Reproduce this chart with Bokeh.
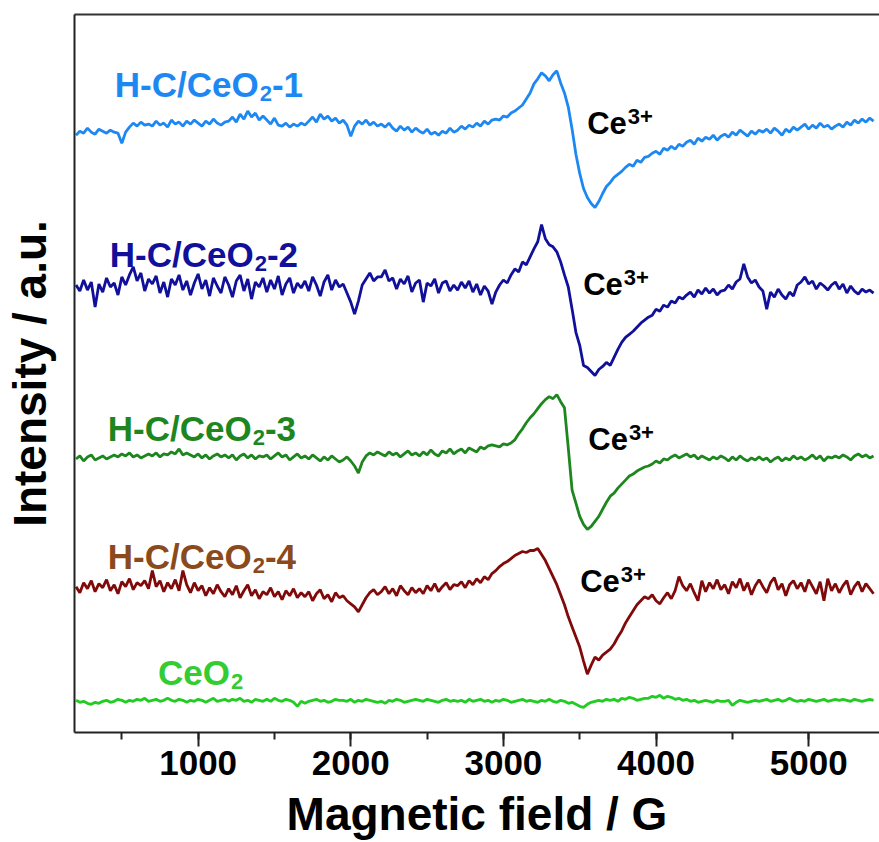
import numpy as np
from bokeh.plotting import figure
from bokeh.models import (LinearAxis, FixedTicker, SingleIntervalTicker, Range1d,
                          ColumnDataSource)
from bokeh.core.properties import value
from bokeh.embed import file_html
from bokeh.resources import INLINE

# ---------------- data ----------------
# field sampled every 25 G starting at 200 G; intensities in a.u. relative to each baseline
field_start = 200
field_step = 25

s1 = [  # H-C/CeO2-1
    -6, -2, -4, 1, -3, -5, 0, -2, -4, -1,
    -3, -4, -14, -3, 2, 6, 3, 7, 4, 5,
    3, 8, 4, 6, 2, 9, 5, 7, 3, 8,
    5, 9, 6, 3, 8, 5, 10, 6, 4, 7,
    8, 12, 7, 15, 10, 18, 12, 16, 9, 13,
    9, 5, 11, 4, 3, 6, 2, 5, 3, 6,
    4, 8, 12, 7, 15, 10, 13, 8, 11, 6,
    9, 4, -7, 3, 8, 5, 9, 4, 7, 3,
    5, 2, 6, 1, -2, 3, -1, 2, -3, 1,
    -2, -4, 0, -5, -3, -6, -2, -4, 1, -3,
    -1, 3, 0, 4, 2, 6, 3, 8, 5, 9,
    10, 9, 13, 12, 16, 18, 21, 24, 30, 36,
    45, 50, 56, 53, 48, 54, 58, 46, 36, 22,
    0, -25, -44, -59, -68, -74, -78, -72, -64, -57,
    -53, -48, -45, -42, -38, -35, -37, -31, -33, -28,
    -27, -24, -22, -25, -19, -21, -17, -20, -15, -17,
    -13, -11, -15, -9, -12, -8, -10, -6, -11, -7,
    -5, -8, -3, -6, -1, -4, -7, -2, -5, -1,
    -3, 0, -4, 1, -2, -6, 0, -3, 2, -1,
    2, 5, 0, 4, 1, 6, 2, 4, 0, 3,
    5, 2, 7, 4, 9, 6, 10, 7, 11, 8,
]
s2 = [  # H-C/CeO2-2
    2, -4, 7, -3, 5, -20, 3, -5, 9, 0,
    4, -8, 10, 2, 12, 20, 6, 14, -4, 8,
    3, 11, -6, 5, -10, 8, 2, 12, -3, 6,
    -8, 4, 13, -2, 7, -9, 9, 1, -6, 10,
    2, -10, 6, 12, -4, 8, -12, 5, 0, 9,
    -5, 7, -2, 11, -8, 3, 9, -6, 4, -1,
    6, -4, 10, 2, -9, 5, 12, -3, 7, 0,
    3, -6, -15, -27, -14, 2, 8, 14, 6, 10,
    10, 17, 6, 9, -2, 8, 3, 11, -5, 4,
    7, -15, 4, 1, 8, -6, 4, 6, -4, 2,
    -3, 5, -1, 6, -5, 3, -8, 1, -4, -17,
    -5, 2, 7, 4, 12, 18, 15, 25, 22, 30,
    38, 45, 62, 48, 42, 40, 35, 25, 12, 0,
    -22, -45, -58, -78, -80, -84, -88, -82, -79, -75,
    -78, -70, -62, -55, -50, -47, -44, -40, -36, -33,
    -30, -28, -22, -24, -18, -20, -14, -16, -10, -12,
    -8, -5, -10, -3, -7, -1, -6, -2, -8, -4,
    -3, 2, -2, 5, 8, 23, 10, 4, 7, 0,
    -4, -22, -5, -10, -2, -8, -12, -5, -9, 2,
    5, 10, 3, 6, -2, 4, 1, -3, 2, 5,
    -2, 3, -6, 1, -4, -7, -2, -5, -3, -6,
]
s3 = [  # H-C/CeO2-3
    -1, 2, -3, 1, 3, -2, 0, 2, -1, 1,
    3, 1, 4, 2, 5, 1, 3, 0, 2, 4,
    2, 5, 1, 4, 3, 6, 4, 9, 3, 5,
    3, 1, 4, 0, 3, -1, 2, 4, 1, 3,
    0, 3, -2, 2, 4, 0, 3, -1, 2, 1,
    3, -1, 2, 5, 1, 3, -2, 1, 4, 0,
    2, -1, 3, 0, -3, 1, -2, 2, -1, -4,
    -2, 1, -3, -8, -15, -4, 2, 5, 3, 6,
    4, 2, 6, 3, 5, 1, 4, 7, 3, 5,
    2, 6, 3, 8, 4, 2, 7, 5, 9, 4,
    7, 9, 5, 10, 8, 6, 11, 9, 12, 13,
    12, 11, 14, 13, 15, 18, 24, 29, 35, 40,
    44, 49, 54, 58, 61, 59, 63, 56, 50, 10,
    -32, -45, -58, -66, -71, -68, -63, -58, -51, -44,
    -38, -35, -30, -26, -22, -18, -16, -13, -11, -9,
    -8, -6, -3, -5, -1, -2, 1, 3, 0, 2,
    4, 1, 3, -1, 2, 0, -2, 1, -1, 2,
    0, -3, 1, -2, 2, -1, -3, 0, -2, 1,
    -2, 0, -4, -1, 1, -3, 0, -2, 2, -1,
    1, -2, 0, 3, -1, 2, -3, 1, 0, 2,
    0, 3, 1, -2, 2, 4, 1, 3, 0, 2,
]
s4 = [  # H-C/CeO2-4
    2, -4, 6, 0, 8, -3, 5, 1, 9, -2,
    4, -5, 7, 2, 10, -1, 6, 3, 8, 0,
    18, 2, 8, -3, 6, 0, 9, -2, 18, 4,
    -4, 6, -2, 3, -7, 1, -5, 4, -3, -8,
    0, -6, 3, -9, -2, 4, -7, -1, -10, -3,
    -6, 1, -8, -3, -11, -2, -7, 0, -9, -4,
    -8, -3, -12, -5, -1, -10, -6, -13, -4, -9,
    -7, -12, -15, -18, -23, -16, -9, -4, -1, -6,
    -3, 2, -5, 0, -7, 3, -2, -6, 1, -4,
    0, -5, 3, -2, 5, -3, 2, 6, -1, 4,
    3, 7, 1, 8, 4, 10, 6, 12, 9, 15,
    18, 22, 25, 27, 30, 33, 35, 37, 36, 38,
    38, 40, 34, 28, 20, 12, 4, -6, -16, -28,
    -38, -48, -58, -72, -85, -76, -68, -71, -66, -63,
    -60, -55, -48, -42, -34, -28, -22, -16, -12, -8,
    -10, -6, -12, -15, -9, -4, -10, -2, 12, 3,
    -2, 5, -4, -12, 8, -3, 6, 0, 9, -1,
    4, -5, 7, 1, 10, -2, 6, -6, 3, 9,
    2, -4, 6, 11, -1, 5, -7, 4, 8, 0,
    6, -3, 9, 2, -5, 7, -12, 10, -2, 5,
    -4, 3, 8, -6, 2, 7, -3, 5, 0, -5,
]
s5 = [  # CeO2
    1, -1, 0, -2, -3, -1, -2, 0, 1, -1,
    0, 2, 1, -1, 1, 0, 2, 1, 3, 0,
    1, 2, 0, 1, 3, 1, 0, 2, 1, -1,
    1, 0, 2, 1, -1, 1, 3, 0, 1, 2,
    0, 2, 1, 3, 0, 1, -1, 2, 1, 0,
    2, 0, 3, 1, 0, 2, 1, -1, -5, 0,
    -2, 0, 1, 2, 0, 1, -1, 0, 2, 1,
    1, 0, 2, -1, 1, 0, 2, 1, 0, -1,
    0, -2, 1, 0, 2, 1, -1, 0, 1, 2,
    1, 0, 2, 1, 0, -1, 1, 2, 0, 1,
    0, 1, -1, 2, 0, 1, 2, 0, 1, -1,
    1, 0, 2, 1, -1, 0, 1, 2, 0, 1,
    0, -1, 1, 0, 2, 0, -1, 1, 0, -2,
    -1, -3, -5, -6, -3, -1, 0, 1, 0, 2,
    1, 2, 0, 3, 2, 4, 3, 1, 2, 3,
    3, 5, 4, 6, 3, 5, 4, 2, 3, 1,
    2, 0, 1, -1, 0, 1, 0, -1, 1, 0,
    0, 1, -4, -1, 1, 0, -1, 0, 1, 0,
    1, 2, 0, 1, 2, 0, 1, 3, 1, 0,
    1, 0, 2, 1, 0, 1, 2, 0, 1, 2,
    1, 2, 1, 0, 2, 1, 0, 1, 2, 1,
]

series = [s1, s2, s3, s4, s5]
# sample names split as (text before subscript, subscript, text after subscript)
name_parts = [("H-C/CeO", "2", "-1"), ("H-C/CeO", "2", "-2"), ("H-C/CeO", "2", "-3"),
              ("H-C/CeO", "2", "-4"), ("CeO", "2", "")]
offsets = [600, 443, 273, 143, 31]          # vertical stacking offsets (a.u.)
line_colors = ["#1E88F2", "#10109A", "#1E861E", "#800A0A", "#22CC22"]
label_colors = ["#1E88F2", "#10109A", "#1E861E", "#8A4A1C", "#33CC33"]
label_x = [454, 421, 408, 408, 737]
label_y = [644, 475, 302, 175, 60]

ce_base, ce_sup = "Ce", "3+"
ce_x = [3549, 3523, 3556, 3503]
ce_y = [606, 446, 291, 150]

x_ticks_interval = 1000

# ---------------- helpers ----------------
FONT = "Liberation Sans"
# Arial/Liberation Sans Bold advance widths (em)
_W = {"H": .722, "-": .333, "C": .722, "/": .278, "e": .556, "O": .778,
      "0": .556, "1": .556, "2": .556, "3": .556, "4": .556, "+": .584}


def text_width(s, size):
    return sum(_W.get(ch, .556) for ch in s) * size


MAIN_PX, SUB_PX = 35, 22
CE_PX, SUP_PX = 31, 22

# ---------------- figure ----------------
p = figure(width=879, height=842, output_backend="svg", toolbar_location=None,
           x_range=Range1d(190, 5464), y_range=Range1d(0, 714),
           min_border_left=0, min_border_right=0, min_border_top=14,
           min_border_bottom=0, y_axis_location=None)
p.outline_line_color = None
p.grid.visible = False
p.background_fill_color = "white"
p.border_fill_color = "white"

for s, off, col in zip(series, offsets, line_colors):
    arr = np.asarray(s, dtype=float)
    fld = field_start + field_step * np.arange(len(arr))
    src = ColumnDataSource(dict(x=fld, y=arr + off))
    p.line("x", "y", source=src, line_color=col, line_width=2.8)

common = dict(text_font=value(FONT), text_font_style="bold",
              text_baseline="alphabetic", text_align="left")

for (a, sub, b), lx, ly, lc in zip(name_parts, label_x, label_y, label_colors):
    wa = text_width(a, MAIN_PX)
    ws = text_width(sub, SUB_PX)
    p.text(x=[lx], y=[ly], text=[a], text_color=lc, text_font_size=f"{MAIN_PX}px", **common)
    p.text(x=[lx], y=[ly], text=[sub], text_color=lc, text_font_size=f"{SUB_PX}px",
           x_offset=wa + 1, y_offset=9, **common)
    if b:
        p.text(x=[lx], y=[ly], text=[b], text_color=lc, text_font_size=f"{MAIN_PX}px",
               x_offset=wa + ws + 1, **common)

wce = text_width(ce_base, CE_PX)
p.text(x=ce_x, y=ce_y, text=[ce_base] * len(ce_x), text_color="black",
       text_font_size=f"{CE_PX}px", **common)
p.text(x=ce_x, y=ce_y, text=[ce_sup] * len(ce_x), text_color="black",
       text_font_size=f"{SUP_PX}px", x_offset=wce + 1, y_offset=-7, **common)

# x axis
xa = p.xaxis[0]
xa.ticker = SingleIntervalTicker(interval=x_ticks_interval, num_minor_ticks=2)
xa.axis_label = "Magnetic field / G"
xa.axis_label_text_font = FONT
xa.axis_label_text_font_style = "bold"
xa.axis_label_text_font_size = "46px"
xa.axis_label_text_color = "black"
xa.axis_label_standoff = 10
xa.major_label_text_font = FONT
xa.major_label_text_font_style = "bold"
xa.major_label_text_font_size = "35px"
xa.major_label_text_color = "black"
xa.major_label_standoff = 4
xa.axis_line_width = 2
xa.axis_line_color = "#222222"
xa.major_tick_line_width = 2
xa.minor_tick_line_width = 2
xa.major_tick_line_color = "#222222"
xa.minor_tick_line_color = "#222222"
xa.major_tick_in = 0
xa.major_tick_out = 14
xa.minor_tick_in = 0
xa.minor_tick_out = 7

# left axis: line and title only
ya = LinearAxis(ticker=FixedTicker(ticks=[]), axis_label="Intensity / a.u.")
ya.major_label_text_font_size = "0px"
ya.major_tick_out = 0
ya.minor_tick_out = 0
ya.major_label_standoff = 0
ya.axis_label_standoff = 19
ya.axis_label_text_font = FONT
ya.axis_label_text_font_style = "bold"
ya.axis_label_text_font_size = "46px"
ya.axis_label_text_color = "black"
ya.axis_line_width = 2
ya.axis_line_color = "#222222"
p.add_layout(ya, "left")

# top frame line
ta = LinearAxis(ticker=FixedTicker(ticks=[]))
ta.major_label_text_font_size = "0px"
ta.major_tick_out = 0
ta.minor_tick_out = 0
ta.major_label_standoff = 0
ta.axis_line_width = 2
ta.axis_line_color = "#333333"
p.add_layout(ta, "above")

open("out.html", "w").write(file_html(p, INLINE))
